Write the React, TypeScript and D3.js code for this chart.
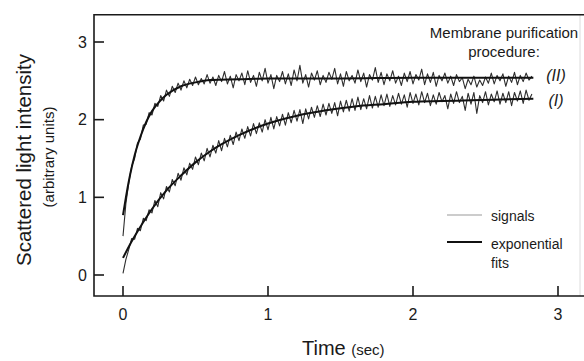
import { useEffect, useRef } from "react";
import * as d3 from "d3";

// Light-scattering time courses for two membrane purification procedures.
const X_TICKS = [0, 1, 2, 3];
const Y_TICKS = [0, 1, 2, 3];

// raw signals sampled every SIGNAL_DT seconds starting at t = 0
const SIGNAL_DT = 0.02;
const SIGNAL_II = [
  0.5, 0.92, 1.19, 1.4, 1.5, 1.7, 1.75, 1.93, 1.94, 2.09, 2.06, 2.21, 2.17, 2.31, 2.24, 2.38, 2.3, 2.43, 2.35, 2.47,
  2.38, 2.5, 2.41, 2.52, 2.44, 2.55, 2.45, 2.53, 2.46, 2.58, 2.47, 2.55, 2.44, 2.57, 2.49, 2.62, 2.46, 2.56, 2.41, 2.58,
  2.5, 2.6, 2.45, 2.63, 2.48, 2.57, 2.43, 2.61, 2.5, 2.66, 2.47, 2.58, 2.4, 2.57, 2.49, 2.62, 2.46, 2.59, 2.44, 2.64,
  2.5, 2.7, 2.47, 2.58, 2.42, 2.6, 2.51, 2.63, 2.45, 2.57, 2.48, 2.61, 2.52, 2.66, 2.46, 2.59, 2.43, 2.62, 2.5, 2.57,
  2.47, 2.64, 2.49, 2.6, 2.42, 2.58, 2.51, 2.67, 2.48, 2.61, 2.45, 2.59, 2.5, 2.63, 2.47, 2.56, 2.44, 2.6, 2.49, 2.62,
  2.46, 2.58, 2.51, 2.65, 2.45, 2.59, 2.48, 2.61, 2.43, 2.57, 2.5, 2.6, 2.47, 2.56, 2.44, 2.58, 2.49, 2.54, 2.4, 2.52,
  2.45, 2.56, 2.42, 2.51, 2.44, 2.55, 2.47, 2.6, 2.46, 2.57, 2.5, 2.59, 2.43, 2.56, 2.48, 2.61, 2.45, 2.57, 2.49, 2.6,
  2.51, 2.56,
];
const SIGNAL_I = [
  0.02, 0.2, 0.33, 0.47, 0.46, 0.6, 0.57, 0.73, 0.7, 0.84, 0.8, 0.96, 0.88, 1.06, 0.98, 1.14, 1.07, 1.23, 1.15, 1.31,
  1.22, 1.38, 1.29, 1.44, 1.36, 1.52, 1.42, 1.57, 1.47, 1.63, 1.52, 1.67, 1.57, 1.73, 1.6, 1.76, 1.65, 1.8, 1.68, 1.84,
  1.73, 1.88, 1.76, 1.91, 1.79, 1.95, 1.82, 1.96, 1.84, 2.0, 1.87, 2.03, 1.88, 2.04, 1.92, 2.07, 1.93, 2.09, 1.96, 2.12,
  1.98, 2.13, 1.95, 2.14, 2.01, 2.16, 2.03, 2.18, 2.04, 2.2, 2.06, 2.21, 2.08, 2.22, 2.05, 2.24, 2.1, 2.25, 2.11, 2.27,
  2.12, 2.29, 2.13, 2.27, 2.14, 2.31, 2.15, 2.3, 2.16, 2.32, 2.18, 2.33, 2.17, 2.31, 2.19, 2.34, 2.2, 2.32, 2.16, 2.35,
  2.21, 2.33, 2.19, 2.36, 2.22, 2.34, 2.18, 2.32, 2.2, 2.35, 2.23, 2.31, 2.14, 2.33, 2.21, 2.36, 2.22, 2.3, 2.12, 2.34,
  2.2, 2.35, 2.08, 2.31, 2.22, 2.36, 2.19, 2.33, 2.23, 2.37, 2.2, 2.34, 2.22, 2.36, 2.18, 2.35, 2.24, 2.37, 2.21, 2.38,
  2.25, 2.33,
];

// exponential fits
const FIT_T_II = [0, 0.02, 0.05, 0.08, 0.12, 0.16, 0.2, 0.25, 0.3, 0.4, 0.5, 0.6, 0.8, 1.0, 1.5, 2.0, 2.5, 2.83];
const FIT_II = [0.77, 1.0, 1.3, 1.54, 1.78, 1.97, 2.11, 2.23, 2.32, 2.43, 2.48, 2.51, 2.52, 2.53, 2.53, 2.54, 2.54, 2.54];
const FIT_T_I = [0, 0.05, 0.1, 0.2, 0.3, 0.4, 0.5, 0.6, 0.8, 1.0, 1.2, 1.4, 1.6, 1.8, 2.0, 2.2, 2.4, 2.6, 2.83];
const FIT_I = [0.22, 0.4, 0.56, 0.85, 1.09, 1.28, 1.45, 1.59, 1.8, 1.95, 2.05, 2.12, 2.17, 2.2, 2.23, 2.24, 2.25, 2.26, 2.27];

const INK = "#1a1a1a";
const FONT = "'Liberation Sans', Arial, Helvetica, sans-serif";

export default function App() {
  const svgRef = useRef<SVGSVGElement | null>(null);

  useEffect(() => {
    document.body.style.margin = "0";
    const svg = d3.select(svgRef.current);
    svg.selectAll("*").remove();

    const W = 584;
    const H = 361;
    const x = d3.scaleLinear().domain([0, 3]).range([123, 558]);
    const y = d3.scaleLinear().domain([0, 3]).range([275, 42]);
    const left = x(-0.2);
    const bottom = y(-0.27);
    const top = y(3.35);

    svg.attr("width", W).attr("height", H).attr("viewBox", `0 0 ${W} ${H}`);
    svg.append("rect").attr("width", W).attr("height", H).attr("fill", "#fff");

    // frame
    svg.append("line").attr("x1", 580).attr("x2", 580).attr("y1", top).attr("y2", bottom)
      .attr("stroke", "#dcdcdc").attr("stroke-width", 1);
    svg.append("path")
      .attr("d", `M${W},${top}H${left}V${bottom}H${W}`)
      .attr("fill", "none").attr("stroke", INK).attr("stroke-width", 1.6);

    // ticks + labels
    const yAxis = svg.append("g").attr("font-family", FONT).attr("font-size", 16).attr("fill", INK);
    Y_TICKS.forEach((v) => {
      yAxis.append("line").attr("x1", left).attr("x2", left + 10).attr("y1", y(v)).attr("y2", y(v))
        .attr("stroke", INK).attr("stroke-width", 1.6);
      yAxis.append("text").attr("x", 87).attr("y", y(v)).attr("dy", "0.36em")
        .attr("text-anchor", "end").text(v);
    });
    const xAxis = svg.append("g").attr("font-family", FONT).attr("font-size", 16).attr("fill", INK);
    X_TICKS.forEach((v) => {
      xAxis.append("line").attr("x1", x(v)).attr("x2", x(v)).attr("y1", bottom).attr("y2", bottom - 10)
        .attr("stroke", INK).attr("stroke-width", 1.6);
      xAxis.append("text").attr("x", x(v)).attr("y", 320).attr("text-anchor", "middle").text(v);
    });

    // axis titles
    svg.append("text")
      .attr("transform", "translate(31,160) rotate(-90)")
      .attr("text-anchor", "middle").attr("font-family", FONT).attr("font-size", 20.5).attr("fill", INK)
      .text("Scattered light intensity");
    svg.append("text")
      .attr("transform", "translate(54,157) rotate(-90)")
      .attr("text-anchor", "middle").attr("font-family", FONT).attr("font-size", 15).attr("fill", INK)
      .text("(arbitrary units)");
    const xt = svg.append("text").attr("x", 302).attr("y", 355)
      .attr("font-family", FONT).attr("fill", INK);
    xt.append("tspan").attr("font-size", 20).text("Time ");
    xt.append("tspan").attr("font-size", 15).text("(sec)");

    // signals
    const sigLine = d3.line<number>()
      .x((_, i) => x(i * SIGNAL_DT))
      .y((d) => y(d));
    [SIGNAL_II, SIGNAL_I].forEach((s) => {
      svg.append("path").attr("d", sigLine(s)).attr("fill", "none")
        .attr("stroke", "#2e2e2e").attr("stroke-width", 1.1).attr("stroke-linejoin", "round");
    });

    // fits
    const fitLine = (ts: number[]) =>
      d3.line<number>().x((_, i) => x(ts[i])).y((d) => y(d)).curve(d3.curveMonotoneX);
    svg.append("path").attr("d", fitLine(FIT_T_II)(FIT_II)).attr("fill", "none")
      .attr("stroke", "#111").attr("stroke-width", 2);
    svg.append("path").attr("d", fitLine(FIT_T_I)(FIT_I)).attr("fill", "none")
      .attr("stroke", "#111").attr("stroke-width", 2);

    // annotations
    const ann = svg.append("g").attr("font-family", FONT).attr("fill", INK);
    ann.append("text").attr("x", 504).attr("y", 38).attr("text-anchor", "middle").attr("font-size", 15)
      .text("Membrane purification");
    ann.append("text").attr("x", 504).attr("y", 57).attr("text-anchor", "middle").attr("font-size", 15)
      .text("procedure:");
    ann.append("text").attr("x", 556).attr("y", 81).attr("text-anchor", "middle").attr("font-size", 16)
      .attr("font-style", "italic").text("(II)");
    ann.append("text").attr("x", 556).attr("y", 106).attr("text-anchor", "middle").attr("font-size", 16)
      .attr("font-style", "italic").text("(I)");

    // legend
    const lg = svg.append("g").attr("font-family", FONT).attr("font-size", 14).attr("fill", INK);
    lg.append("line").attr("x1", 447).attr("x2", 482).attr("y1", 215).attr("y2", 215)
      .attr("stroke", "#9a9a9a").attr("stroke-width", 1.2);
    lg.append("text").attr("x", 491).attr("y", 221).text("signals");
    lg.append("line").attr("x1", 447).attr("x2", 482).attr("y1", 242).attr("y2", 242)
      .attr("stroke", "#111").attr("stroke-width", 2);
    lg.append("text").attr("x", 491).attr("y", 249).text("exponential");
    lg.append("text").attr("x", 491).attr("y", 268).text("fits");
  }, []);

  return <svg ref={svgRef} style={{ display: "block" }} />;
}
